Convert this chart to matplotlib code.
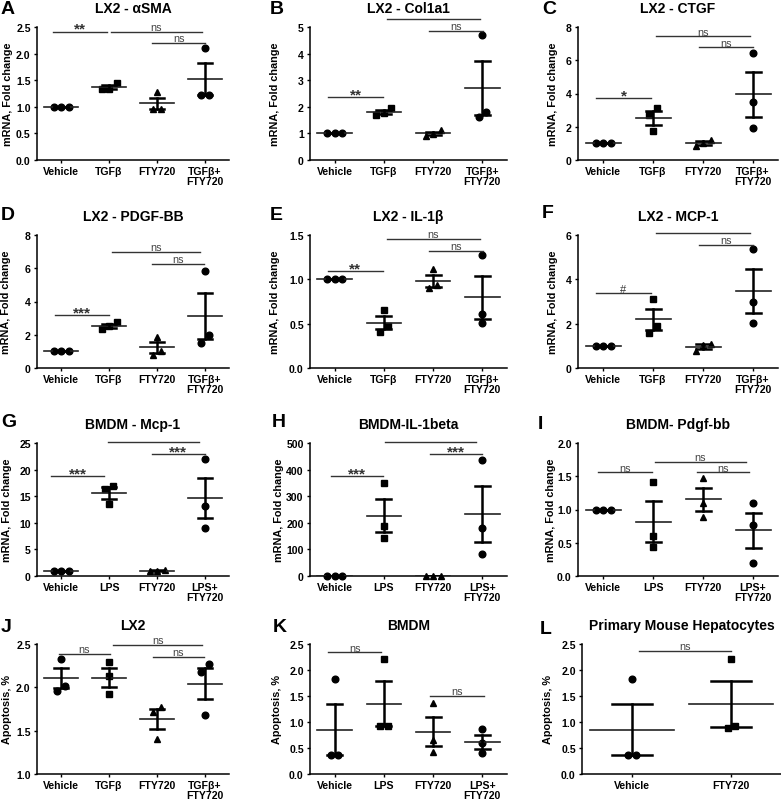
import numpy as np
import matplotlib
matplotlib.use('Agg')
import matplotlib.pyplot as plt

plt.rcParams['font.family'] = ['Liberation Sans', 'DejaVu Sans']

# ---- data ----
lx2_groups = ['Vehicle', 'TGFβ', 'FTY720', 'TGFβ+\nFTY720']
bmdm_groups = ['Vehicle', 'LPS', 'FTY720', 'LPS+\nFTY720']
hep_groups = ['Vehicle', 'FTY720']

markers_4 = ['o', 's', '^', 'o']
markers_2 = ['o', 's']

asma = [[1.0, 1.0, 1.0], [1.44, 1.33, 1.34], [1.28, 0.96, 0.95], [2.11, 1.23, 1.23]]
col1a1 = [[1.0, 1.0, 1.0], [1.95, 1.70, 1.76], [1.12, 0.92, 0.98], [4.71, 1.80, 1.61]]
ctgf = [[1.0, 1.0, 1.0], [3.14, 2.71, 1.73], [1.20, 0.82, 1.05], [6.43, 3.48, 1.91]]
pdgf = [[1.0, 1.0, 1.0], [2.78, 2.36, 2.50], [1.88, 1.05, 0.80], [5.85, 1.96, 1.51]]
il1b = [[1.0, 1.0, 1.0], [0.65, 0.41, 0.47], [1.12, 0.90, 0.94], [1.27, 0.61, 0.51]]
mcp1 = [[1.0, 1.0, 1.0], [3.10, 1.89, 1.59], [1.10, 0.75, 1.05], [5.36, 2.98, 2.04]]
bmdm_mcp1 = [[1.0, 1.0, 1.0], [16.9, 16.4, 13.5], [1.1, 0.9, 1.0], [21.9, 13.2, 9.0]]
bmdm_il1b = [[1.0, 1.0, 1.0], [350, 187, 143], [1.2, 0.8, 1.0], [435, 182, 83]]
bmdm_pdgf = [[1.0, 1.0, 1.0], [1.42, 0.60, 0.43], [1.47, 1.10, 0.89], [1.10, 0.76, 0.20]]
apo_lx2 = [[2.33, 2.02, 1.96], [2.29, 2.13, 1.92], [1.77, 1.72, 1.40], [2.27, 2.18, 1.68]]
apo_bmdm = [[1.83, 0.36, 0.36], [2.22, 0.92, 0.92], [1.36, 0.65, 0.43], [0.87, 0.59, 0.40]]
apo_hep = [[1.83, 0.36, 0.36], [2.22, 0.89, 0.92]]

# comparisons: (x from, x to, y, label)
comp_a = [(-0.16, 0.95, 2.41, '**'), (1.05, 2.93, 2.41, 'ns'), (1.90, 3.00, 2.20, 'ns')]
comp_b = [(-0.14, 0.99, 2.36, '**'), (1.06, 2.95, 5.29, 'ns'), (1.92, 3.01, 4.85, 'ns')]
comp_c = [(-0.14, 0.96, 3.72, '*'), (1.06, 2.93, 7.44, 'ns'), (1.92, 3.00, 6.77, 'ns')]
comp_d = [(-0.12, 1.00, 3.17, '***'), (1.07, 2.90, 7.00, 'ns'), (1.90, 2.97, 6.25, 'ns')]
comp_e = [(-0.14, 0.98, 1.09, '**'), (1.06, 2.95, 1.455, 'ns'), (1.92, 3.01, 1.32, 'ns')]
comp_f = [(-0.14, 0.96, 3.37, '#'), (1.06, 2.93, 6.07, 'ns'), (1.92, 3.00, 5.56, 'ns')]
comp_g = [(-0.21, 0.90, 18.8, '***'), (0.97, 2.87, 25.1, 'ns'), (1.89, 3.00, 22.9, '***')]
comp_h = [(-0.07, 0.98, 375, '***'), (1.03, 2.87, 504, 'ns'), (1.93, 3.00, 459, '***')]
comp_i = [(-0.10, 0.97, 1.56, 'ns'), (1.03, 2.85, 1.72, 'ns'), (1.87, 2.92, 1.56, 'ns')]
comp_j = [(-0.05, 1.03, 2.39, 'ns'), (1.09, 2.94, 2.49, 'ns'), (1.91, 2.97, 2.35, 'ns')]
comp_k = [(-0.14, 0.95, 2.34, 'ns'), (1.93, 3.03, 1.50, 'ns')]
comp_l = [(0.07, 1.00, 2.37, 'ns')]

MRNA = 'mRNA, Fold change'
APO = 'Apoptosis, %'

# letter, title, groups, markers, values, comps, ylim, step, fmt, ylabel
panels = [
    ('A', 'LX2 - αSMA', lx2_groups, markers_4, asma, comp_a, (0, 2.5), 0.5, '%.1f', MRNA),
    ('B', 'LX2 - Col1a1', lx2_groups, markers_4, col1a1, comp_b, (0, 5), 1, '%d', MRNA),
    ('C', 'LX2 - CTGF', lx2_groups, markers_4, ctgf, comp_c, (0, 8), 2, '%d', MRNA),
    ('D', 'LX2 - PDGF-BB', lx2_groups, markers_4, pdgf, comp_d, (0, 8), 2, '%d', MRNA),
    ('E', 'LX2 - IL-1β', lx2_groups, markers_4, il1b, comp_e, (0, 1.5), 0.5, '%.1f', MRNA),
    ('F', 'LX2 - MCP-1', lx2_groups, markers_4, mcp1, comp_f, (0, 6), 2, '%d', MRNA),
    ('G', 'BMDM - Mcp-1', bmdm_groups, markers_4, bmdm_mcp1, comp_g, (0, 25), 5, '%d', MRNA),
    ('H', 'BMDM-IL-1beta', bmdm_groups, markers_4, bmdm_il1b, comp_h, (0, 500), 100, '%d', MRNA),
    ('I', 'BMDM- Pdgf-bb', bmdm_groups, markers_4, bmdm_pdgf, comp_i, (0, 2.0), 0.5, '%.1f', MRNA),
    ('J', 'LX2', lx2_groups, markers_4, apo_lx2, comp_j, (1.0, 2.5), 0.5, '%.1f', APO),
    ('K', 'BMDM', bmdm_groups, markers_4, apo_bmdm, comp_k, (0, 2.5), 0.5, '%.1f', APO),
    ('L', 'Primary Mouse Hepatocytes', hep_groups, markers_2, apo_hep, comp_l, (0, 2.5), 0.5, '%.1f', APO),
]

# ---- layout in pixels ----
FW, FH = 781, 804
col_left = [37, 310, 578]
col_width = [192, 197, 200]
row_top = [28, 236, 444, 645]
row_h = [133, 133, 133, 130]
ylab_off = [29, 35, 25, 31, 35, 25, 30, 31, 27, 30, 33, 34]
letter_xy = [(1, 10), (270, 10), (542, 10), (1, 215), (270, 215), (542, 213),
             (1, 423), (272, 423), (538, 425), (1, 628), (273, 628), (540, 630)]


def spread(vals, rng, step):
    vals = np.asarray(vals, float)
    order = np.argsort(vals)
    offs = np.zeros(len(vals))
    clusters = [[order[0]]]
    for k in order[1:]:
        if vals[k] - vals[clusters[-1][-1]] < 0.06 * rng:
            clusters[-1].append(k)
        else:
            clusters.append([k])
    for c in clusters:
        for m, k in enumerate(c):
            offs[k] = (m - (len(c) - 1) / 2) * step
    return offs


fig = plt.figure(figsize=(FW / 100, FH / 100), dpi=100)

for n, (letter, title, groups, marks, values, comps, ylim, step, fmt, ylabel) in enumerate(panels):
    r, c = divmod(n, 3)
    left = col_left[c]
    width = col_width[c]
    if letter == 'L':
        left, width = 582, 199
    top = row_top[r]
    ax_h = row_h[r]
    ax = fig.add_axes([left / FW, 1 - (top + ax_h) / FH, width / FW, ax_h / FH])

    ncat = len(groups)
    xs = np.arange(ncat)
    cat_px = width / ncat
    hw_mean = 0.35 if ncat == 4 else 0.42
    hw_cap = 0.15 if ncat == 4 else 0.2
    rng = ylim[1] - ylim[0]

    for i, vals in enumerate(values):
        vals = np.array(vals, float)
        mean = vals.mean()
        sem = vals.std(ddof=1) / np.sqrt(len(vals))
        offs = spread(vals, rng, 7.5 / cat_px)
        ax.plot(xs[i] + offs, vals, linestyle='none', marker=marks[i], ms=4.8,
                color='black', zorder=3, clip_on=False)
        ax.plot([xs[i] - hw_mean, xs[i] + hw_mean], [mean, mean], color='#222222', lw=1.2, zorder=4)
        ax.plot([xs[i], xs[i]], [mean - sem, mean + sem], color='black', lw=1.8, zorder=4)
        for yy in (mean - sem, mean + sem):
            ax.plot([xs[i] - hw_cap, xs[i] + hw_cap], [yy, yy], color='black', lw=1.8, zorder=4)

    for x0, x1, yv, lab in comps:
        ax.plot([x0, x1], [yv, yv], color='#333333', lw=1.0, clip_on=False, zorder=5)
        xm = (x0 + x1) / 2
        if lab == 'ns':
            ax.annotate(lab, (xm, yv), xytext=(0, 1.2), textcoords='offset points',
                        ha='center', va='baseline', fontsize=7.8, color='#444444')
        elif lab == '#':
            ax.annotate(lab, (xm, yv), xytext=(0, 1.2), textcoords='offset points',
                        ha='center', va='baseline', fontsize=8, color='#333333')
        else:
            ax.annotate(lab, (xm, yv), xytext=(0, -0.8), textcoords='offset points',
                        ha='center', va='baseline', fontsize=11, fontweight='bold', color='#333333')

    ax.set_xlim(-0.5, ncat - 0.5)
    ax.set_ylim(*ylim)
    ticks = np.arange(ylim[0], ylim[1] + step / 2, step)
    ax.set_yticks(ticks)
    ax.set_yticklabels([fmt % t for t in ticks])
    ax.set_xticks(xs)
    ax.set_xticklabels(groups, linespacing=1.05)
    for sp in ('top', 'right'):
        ax.spines[sp].set_visible(False)
    for sp in ('left', 'bottom'):
        ax.spines[sp].set_linewidth(1.1)
    ax.tick_params(axis='both', length=2.5, width=1.0, pad=2, labelsize=7.6)
    ax.tick_params(axis='x', pad=1.5)
    for t in ax.get_xticklabels() + ax.get_yticklabels():
        t.set_fontweight('bold')
    ax.set_ylabel(ylabel, fontsize=7.8, fontweight='bold', va='center')
    ax.yaxis.set_label_coords(-ylab_off[n] / width, 0.5)

    ax.text(0.5, 1 + 19 / ax_h, title, transform=ax.transAxes, ha='center', va='center',
            fontsize=10, fontweight='bold')
    lx, ly = letter_xy[n]
    fig.text(lx / FW, 1 - ly / FH, letter, ha='left', va='center', fontsize=14, fontweight='bold')

fig.savefig('out.png', dpi=100)
